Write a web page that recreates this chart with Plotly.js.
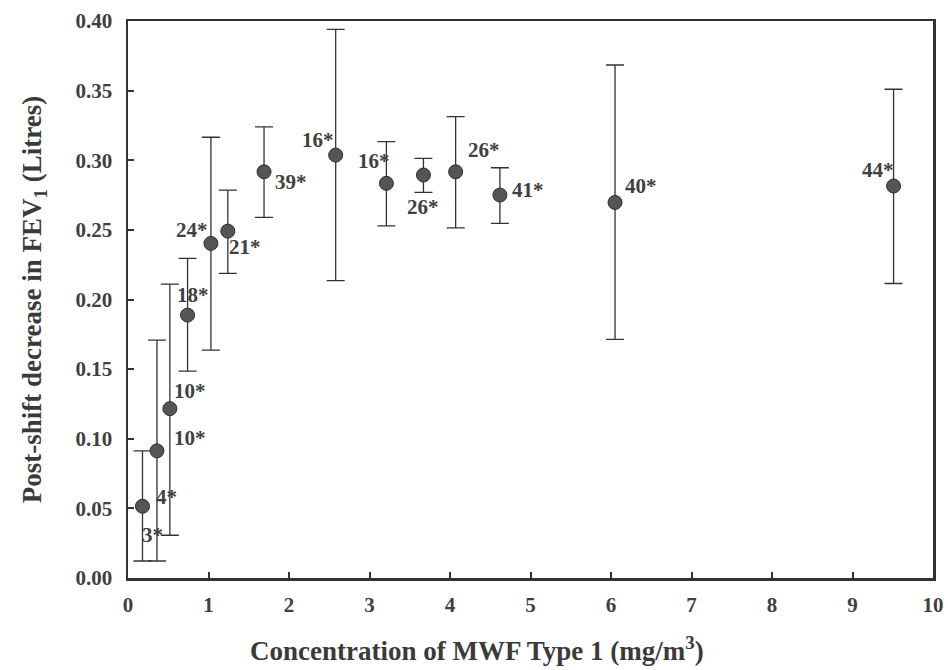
<!DOCTYPE html>
<html>
<head>
<meta charset="utf-8">
<script src="https://cdn.plot.ly/plotly-3.0.1.min.js"></script>
<style>html,body{margin:0;padding:0;background:#fff;}#chart{width:948px;height:670px;}</style>
</head>
<body>
<div id="chart"></div>
<script>
// Data
const concentration = [0.18, 0.36, 0.52, 0.74, 1.03, 1.24, 1.69, 2.58, 3.21, 3.67, 4.07, 4.62, 6.05, 9.51];
const fevDecrease   = [0.0515, 0.0913, 0.1216, 0.1888, 0.2403, 0.2491, 0.2917, 0.3037, 0.2834, 0.2894, 0.2917, 0.2750, 0.2697, 0.2815];
const ciLower       = [0.0122, 0.0122, 0.0307, 0.1485, 0.1636, 0.2187, 0.2590, 0.2135, 0.2529, 0.2769, 0.2515, 0.2547, 0.1713, 0.2115];
const ciUpper       = [0.0913, 0.1708, 0.2110, 0.2295, 0.3165, 0.2786, 0.3240, 0.3940, 0.3134, 0.3014, 0.3313, 0.2946, 0.3684, 0.3510];
const labelTexts    = ["3*", "4*", "10*", "10*", "18*", "24*", "21*", "39*", "16*", "16*", "26*", "26*", "41*", "40*", "44*"];
const labelPoint    = [0, 0, 1, 2, 3, 4, 5, 6, 7, 8, 9, 10, 11, 12, 13];
const xTicks = [0, 1, 2, 3, 4, 5, 6, 7, 8, 9, 10];
const yTicks = [0, 0.05, 0.10, 0.15, 0.20, 0.25, 0.30, 0.35, 0.40];
const xTitle = 'Concentration of MWF Type 1 (mg/m<sup>3</sup>)';
const yTitle = 'Post-shift decrease in FEV<sub>1</sub> (Litres)';

// label pixel offsets (style)
const labelShift = [[10,-29],[24,9],[33,13],[20,18],[5,20],[-19,13],[17,-16],[27,-10],[-18,15],[-12,22],[0,-32],[28,22],[28,5],[26,16],[-16,16]];

const ink = '#333333';
const font = 'Liberation Serif, Times New Roman, serif';

const trace = {
  x: concentration,
  y: fevDecrease,
  type: 'scatter',
  mode: 'markers',
  marker: {size: 14, color: '#555555', line: {color: '#2e2e2e', width: 1}},
  error_y: {
    type: 'data', symmetric: false,
    array: ciUpper.map((u, i) => u - fevDecrease[i]),
    arrayminus: ciLower.map((l, i) => fevDecrease[i] - l),
    color: ink, thickness: 1.3, width: 9
  },
  hoverinfo: 'x+y'
};

const annotations = labelTexts.map((t, i) => ({
  x: concentration[labelPoint[i]],
  y: fevDecrease[labelPoint[i]],
  text: '<b>' + t + '</b>',
  showarrow: false,
  xshift: labelShift[i][0],
  yshift: labelShift[i][1],
  font: {family: font, size: 21, color: '#404040'}
}));

annotations.push({
  xref: 'paper', yref: 'paper', x: 0.434, y: -0.128, yanchor: 'middle', xanchor: 'center',
  text: '<b>' + xTitle + '</b>', showarrow: false,
  font: {family: font, size: 27, color: '#3a3a3a'}
});

const layout = {
  width: 948, height: 670,
  margin: {l: 128, r: 15, t: 21, b: 92},
  paper_bgcolor: '#fff', plot_bgcolor: '#fff',
  showlegend: false,
  font: {family: font, color: ink},
  xaxis: {
    range: [0, 10], tickvals: xTicks, ticktext: xTicks.map(v => '<b>' + v + '</b>'),
    showgrid: false, zeroline: false,
    showline: true, linecolor: ink, linewidth: 2.5, mirror: true,
    ticks: 'inside', ticklen: 6, tickwidth: 2, tickcolor: ink,
    tickfont: {family: font, size: 21, color: '#404040'},
    ticklabelstandoff: 6
  },
  yaxis: {
    range: [0, 0.40], tickvals: yTicks, ticktext: yTicks.map(v => '<b>' + v.toFixed(2) + '</b>'),
    showgrid: false, zeroline: false,
    showline: true, linecolor: ink, linewidth: 2.5, mirror: true,
    ticks: 'inside', ticklen: 6, tickwidth: 2, tickcolor: ink,
    tickfont: {family: font, size: 21, color: '#404040'},
    ticklabelstandoff: 9,
    title: {text: '<b>' + yTitle + '</b>', font: {family: font, size: 27, color: '#3a3a3a'}, standoff: 26}
  },
  annotations: annotations
};

Plotly.newPlot('chart', [trace], layout, {displayModeBar: false, staticPlot: true});
</script>
</body>
</html>
